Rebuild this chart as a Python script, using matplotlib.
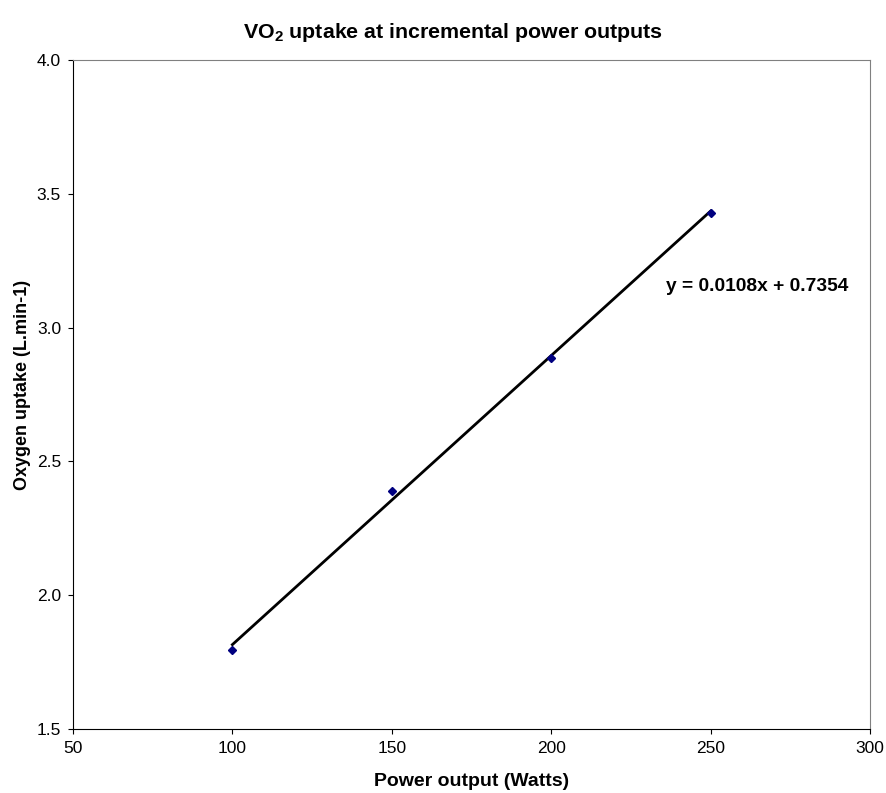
import numpy as np
import matplotlib
matplotlib.use("Agg")
import matplotlib.pyplot as plt

plt.rcParams['font.family'] = ['Liberation Sans', 'DejaVu Sans']
plt.rcParams['mathtext.fontset'] = 'custom'
plt.rcParams['mathtext.rm'] = 'Liberation Sans:bold'
plt.rcParams['mathtext.default'] = 'rm'

# data
power = [100, 150, 200, 250]
vo2 = [1.795, 2.39, 2.8874, 3.4292]
x_ticks = [50, 100, 150, 200, 250, 300]
y_ticks = [1.5, 2.0, 2.5, 3.0, 3.5, 4.0]

slope, intercept = np.polyfit(power, vo2, 1)
fit_x = np.array([min(power), max(power)])
fit_y = slope * fit_x + intercept

fig = plt.figure(figsize=(8.86, 7.93), dpi=100)
ax = fig.add_axes([0.0824, 0.0807, 0.8995, 0.8436])

ax.plot(fit_x, fit_y, color='black', lw=2, zorder=2)
ax.plot(power, vo2, ls='none', marker='D', ms=4, color='#000080', zorder=3)

ax.text(236, 3.154, "y = %.4fx + %.4f" % (slope, intercept),
        fontsize=13.8, fontweight='bold', va='center', ha='left')

ax.set_xlim(50, 300)
ax.set_ylim(1.5, 4.0)
ax.set_xticks(x_ticks)
ax.set_yticks(y_ticks)
ax.set_yticklabels(["%.1f" % v for v in y_ticks])
ax.tick_params(direction='out', length=3.6, labelsize=12.5, pad=5)
ax.spines['top'].set_color('#808080')
ax.spines['right'].set_color('#808080')

ax.set_xlabel("Power output (Watts)", fontsize=14, fontweight='bold', labelpad=12)
ax.set_ylabel("Oxygen uptake (L.min-1)", fontsize=13, fontweight='bold')
ax.yaxis.set_label_coords(-0.0527, 0.514)
ax.set_title("VO$_2$ uptake at incremental power outputs", fontsize=15.4, fontweight='bold',
             x=0.477, pad=16)

fig.savefig("out.png", dpi=100)
